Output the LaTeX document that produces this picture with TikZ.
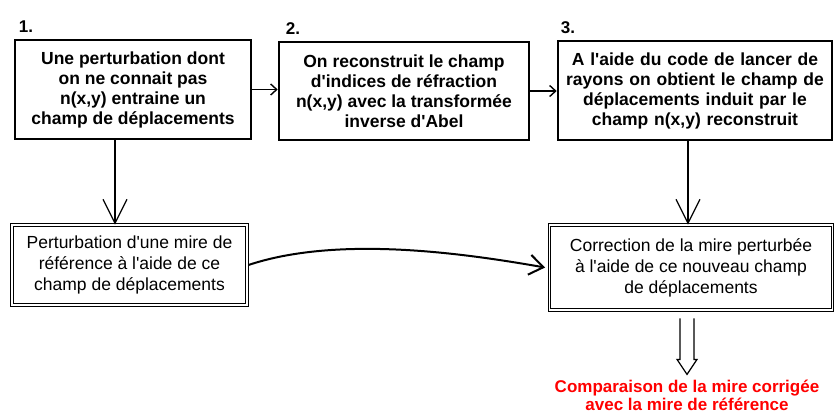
\documentclass[tikz,border=0pt]{standalone}
\usepackage{fontspec}
\setmainfont{Liberation Sans}
\usepackage{tikz}
\usetikzlibrary{calc,positioning,arrows.meta}
\tikzset{
 abel step/.style={draw=black,line width=2.6pt,inner sep=0pt,align=center,
                   font=\bfseries\fontsize{17.5}{20}\selectfont},
 abel result/.style={draw=black,line width=.8pt,double=white,double distance=1.8pt,
                     inner sep=0pt,align=center,font=\fontsize{17.5}{21}\selectfont},
 abel num/.style={font=\bfseries\fontsize{17}{20}\selectfont,inner sep=0pt},
 abel link/.style={line width=1.4pt,-{Straight Barb[length=6pt,width=11pt]}},
 abel down/.style={line width=1.2pt,-{Straight Barb[length=24pt,width=24pt,line width=1.2pt]}},
 abel curve/.style={line width=2pt,-{Straight Barb[length=14pt,width=20pt,line width=2pt]}},
 abel final/.style={text=red,font=\bfseries\fontsize{17}{18}\selectfont,align=center,inner sep=0pt}
}
\newcommand{\ap}{\textquotesingle}
\begin{document}
\begin{tikzpicture}[x=1pt,y=-1pt]
 \useasboundingbox (0,0) rectangle (834,416);

 % the three steps
 \node[abel step,minimum width=236pt,minimum height=99pt] (b1) at (133,89.5)
   {Une perturbation dont\\on ne connait pas\\n(x,y) entraine un\\champ de déplacements};
 \node[abel step,minimum width=250pt,minimum height=98pt] (b2) at (404,91)
   {On reconstruit le champ\\d\ap indices de réfraction\\n(x,y) avec la transformée\\inverse d\ap Abel};
 \node[abel step,minimum width=274pt,minimum height=99pt,text width=270pt] (b3) at (695,90.5)
   {A l\ap aide du code de lancer de\\rayons on obtient le champ de\\déplacements induit par le\\champ n(x,y) reconstruit};

 \node[abel num,anchor=south west] (n1) at ([xshift=5pt,yshift=6pt]b1.north west) {1.};
 \node[abel num,anchor=south west] (n2) at ([xshift=8pt,yshift=6pt]b2.north west) {2.};
 \node[abel num,anchor=south west] (n3) at ([xshift=4pt,yshift=6pt]b3.north west) {3.};

 % the two results
 \node[abel result,minimum width=235pt,minimum height=80pt] (b4) at (129.5,265)
   {Perturbation d\ap une mire de\\référence à l\ap aide de ce\\champ de déplacements};
 \node[abel result,minimum width=283pt,minimum height=85pt] (b5) at (691,267.5)
   {Correction de la mire perturbée\\à l\ap aide de ce nouveau champ\\de déplacements};

 \draw[abel link] (b1.east) -- (b1.east -| b2.west);
 \draw[abel link] (b2.east) -- (b2.east -| b3.west);
 \draw[abel down] ([xshift=-18pt]b1.south) -- ([xshift=-18pt]b1.south |- b4.north);
 \draw[abel down] ([xshift=-7pt]b3.south) -- ([xshift=-7pt]b3.south |- b5.north);
 \draw[abel curve] ([xshift=1pt]b4.east) .. controls +(90,-30) and +(-80,-14) .. ([xshift=-4pt]b5.west);

 % hollow arrow and conclusion
 \coordinate (tip) at ([xshift=-4pt,yshift=-64pt]b5.south);
 \draw[line width=1.2pt,fill=white] ($(tip)+(-7,-56)$) -- ($(tip)+(-7,-15)$) -- ($(tip)+(-10,-15)$)
   -- (tip) -- ($(tip)+(10,-15)$) -- ($(tip)+(7,-15)$) -- ($(tip)+(7,-56)$);
 \node[abel final,anchor=north] (concl) at ([yshift=-5pt]tip)
   {Comparaison de la mire corrigée\\avec la mire de référence};
\end{tikzpicture}
\end{document}
